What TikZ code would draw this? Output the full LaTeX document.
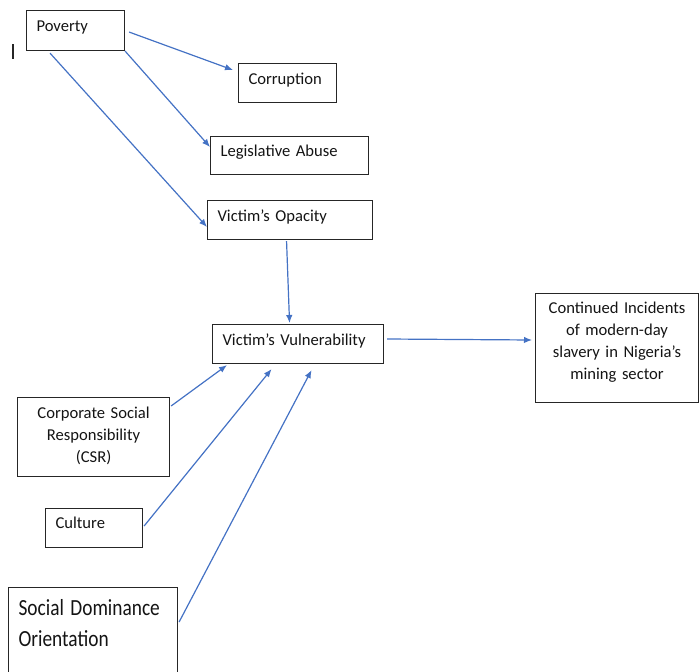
\documentclass[tikz,border=0pt]{standalone}
\usepackage{fontspec}
\setmainfont{Carlito}
\usetikzlibrary{arrows.meta}
\definecolor{arrowblue}{HTML}{4472C4}
\definecolor{boxline}{HTML}{262626}
\begin{document}
\begin{tikzpicture}[x=1pt,y=-1pt,
  box/.style={draw=boxline, line width=1.1pt, rectangle, inner ysep=0pt, inner xsep=10pt,
    align=left, anchor=north west, text=black!92,
    font=\fontsize{16.6}{22}\selectfont},
  cbox/.style={box, align=center, inner xsep=6pt},
  link/.style={draw=arrowblue, line width=1.2pt, -{Latex[length=8pt,width=6.5pt]}}
]
\useasboundingbox (0,0) rectangle (699,672);
\clip (0,0) rectangle (699,672);

% boxes
\node[box, text width=78pt, text height=21pt, text depth=19pt] (pov) at (26,10) {Poverty};
\node[box, text width=78pt, text height=21pt, text depth=18pt] (cor) at (238,63) {Corruption};
\node[box, text width=138pt, text height=20pt, text depth=18pt] (leg) at (210,136) {Legislative Abuse};
\node[box, text width=145pt, text height=21pt, text depth=18pt] (opa) at (207,200) {Victim’s Opacity};
\node[box, text width=151pt, text height=21pt, text depth=18pt] (vul) at (212,324) {Victim’s Vulnerability};
\node[cbox, text width=151pt, text height=20pt, text depth=89pt] (con) at (535,293)
  {Continued Incidents\\of modern-day\\slavery in Nigeria’s\\mining sector};
\node[cbox, text width=140pt, text height=21pt, text depth=58pt] (csr) at (17,397)
  {Corporate Social\\Responsibility\\(CSR)};
\node[box, text width=77pt, text height=20pt, text depth=19pt] (cul) at (45,508) {Culture};
\node[box, text width=149pt, text height=28pt, text depth=70pt,
  font=\fontsize{22}{31}\selectfont] (sdo) at (8,587)
  {\scalebox{0.88}[1.05]{Social Dominance}\\\scalebox{0.88}[1.05]{Orientation}};

% stray bar at the left margin
\draw[boxline, line width=1.2pt] (13,44) -- (13,59);

% connectors
\draw[link] ([shift={(4,1.5)}]pov.east) -- ([shift={(-5,7)}]cor.north west);
\draw[link] (pov.south east) -- ([shift={(0,11)}]leg.north west);
\draw[link] ([shift={(24,2)}]pov.south west) -- ([shift={(0,27)}]opa.north west);
\draw[link] ([shift={(-3.5,1)}]opa.south) -- ([shift={(-8.5,-1)}]vul.north);
\draw[link] ([shift={(3,15)}]vul.north east) -- ([shift={(-3,47)}]con.north west);
\draw[link] ([shift={(1,9)}]csr.north east) -- ([shift={(15,1)}]vul.south west);
\draw[link] ([shift={(1,18)}]cul.north east) -- ([shift={(-26.5,5)}]vul.south);
\draw[link] ([shift={(1,35)}]sdo.north east) -- ([shift={(13.5,6)}]vul.south);
\end{tikzpicture}
\end{document}
